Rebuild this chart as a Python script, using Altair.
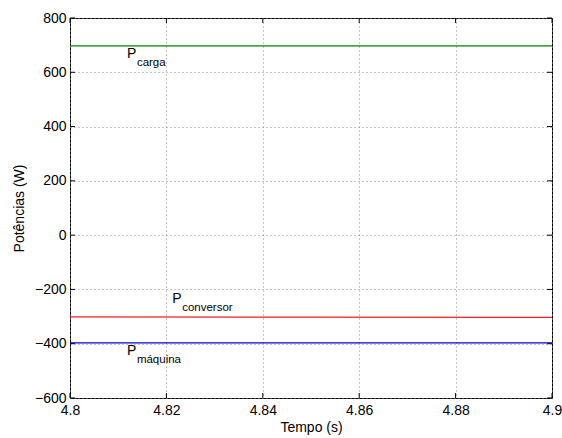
import altair as alt
import pandas as pd

# ---- data ----
tempo = [4.80, 4.85, 4.90]
p_carga = [697, 697, 697]
p_conversor = [-301, -302, -303]
p_maquina = [-397, -397, -397]

x_ticks = [4.80, 4.82, 4.84, 4.86, 4.88, 4.90]
y_ticks = [-600, -400, -200, 0, 200, 400, 600, 800]

label_main = ["P", "P", "P"]
label_sub = ["carga", "conversor", "máquina"]
label_x = [4.8118, 4.8212, 4.8118]
label_y = [654, -249, -440]

series_names = ["carga", "conversor", "máquina"]
series_colors = ["#008000", "#ee2020", "#0000c8"]

FONT = "Liberation Sans"
W, H = 482, 380

rows = []
for name, vals in zip(series_names, [p_carga, p_conversor, p_maquina]):
    for t, v in zip(tempo, vals):
        rows.append({"t": t, "p": v, "s": name})
df = pd.DataFrame(rows)

xs = alt.Scale(domain=[4.8, 4.9], nice=False, zero=False)
ys = alt.Scale(domain=[-600, 800], nice=False, zero=False)

base_axis_x = alt.Axis(values=x_ticks, format="~f", grid=True, gridDash=[1, 3],
                       gridColor="#888888", gridOpacity=1, ticks=False, tickSize=0,
                       domain=False, labelPadding=5, titlePadding=3,
                       labelFlush=False)
base_axis_y = alt.Axis(values=y_ticks, format="~f", grid=True, gridDash=[1, 3],
                       gridColor="#888888", gridOpacity=1, ticks=False, tickSize=0,
                       domain=False, labelPadding=4, titlePadding=8)

lines = alt.Chart(df).mark_line(strokeWidth=1.2).encode(
    x=alt.X("t:Q", scale=xs, axis=base_axis_x, title="Tempo (s)"),
    y=alt.Y("p:Q", scale=ys, axis=base_axis_y, title="Potências (W)"),
    color=alt.Color("s:N", scale=alt.Scale(domain=series_names, range=series_colors),
                    legend=None),
    detail="s:N",
)

xt = pd.DataFrame({"v": x_ticks})
yt = pd.DataFrame({"v": y_ticks})

tick_b = alt.Chart(xt).mark_rule(color="black", strokeWidth=1).encode(
    x=alt.X("v:Q", scale=xs), y=alt.value(H), y2=alt.value(H - 5))
tick_t = alt.Chart(xt).mark_rule(color="black", strokeWidth=1).encode(
    x=alt.X("v:Q", scale=xs), y=alt.value(0), y2=alt.value(5))
tick_l = alt.Chart(yt).mark_rule(color="black", strokeWidth=1).encode(
    y=alt.Y("v:Q", scale=ys), x=alt.value(0), x2=alt.value(5))
tick_r = alt.Chart(yt).mark_rule(color="black", strokeWidth=1).encode(
    y=alt.Y("v:Q", scale=ys), x=alt.value(W), x2=alt.value(W - 5))

lab = pd.DataFrame({"x": label_x, "y": label_y, "m": label_main, "sub": label_sub})
txt_main = alt.Chart(lab).mark_text(align="left", baseline="alphabetic", fontSize=14,
                                    font=FONT, color="black").encode(
    x=alt.X("x:Q", scale=xs), y=alt.Y("y:Q", scale=ys), text="m:N")
txt_sub = alt.Chart(lab).mark_text(align="left", baseline="alphabetic", fontSize=11.5,
                                   font=FONT, color="black", dx=10, dy=8).encode(
    x=alt.X("x:Q", scale=xs), y=alt.Y("y:Q", scale=ys), text="sub:N")

chart = alt.layer(lines, tick_b, tick_t, tick_l, tick_r, txt_main, txt_sub).properties(
    width=W, height=H,
    autosize=alt.AutoSizeParams(type="none"),
    padding={"left": 70, "top": 18, "right": 10, "bottom": 40},
    background="white",
).configure_view(
    stroke="black", strokeWidth=1
).configure_axis(
    labelFont=FONT, titleFont=FONT, labelFontSize=14, titleFontSize=14,
    labelColor="black", titleColor="black", titleFontWeight="normal",
)

chart.save("out.html", embed_options={"renderer": "svg", "actions": False})
